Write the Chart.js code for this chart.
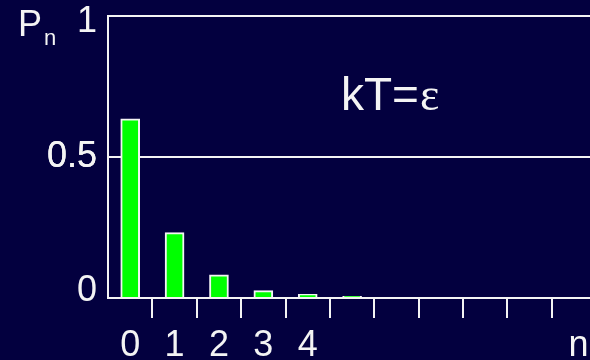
<!DOCTYPE html>
<html>
<head>
<meta charset="utf-8">
<script src="https://cdn.jsdelivr.net/npm/chart.js@4"></script>
<style>
  html, body { margin: 0; padding: 0; background: #03003f; }
  canvas { display: block; }
</style>
</head>
<body>
<canvas id="chart" width="590" height="360"></canvas>
<script>
// Occupation probability of level n
const levels = [0, 1, 2, 3, 4, 5];
const occupancy = [0.635, 0.232, 0.082, 0.026, 0.013, 0.006];

// Axis labels
const xLabelLevels = [0, 1, 2, 3, 4];
const xLabelTexts = ['0', '1', '2', '3', '4'];
const xAxisName = 'n';
const xAxisNameAt = 10.1;
const binEdges = [0.5, 1.5, 2.5, 3.5, 4.5, 5.5, 6.5, 7.5, 8.5, 9.5];
const yGridValues = [0, 0.5, 1];
const yLabelValues = [0.025, 0.5, 0.978];
const yLabelTexts = ['0', '0.5', '1'];

const FONT = '"Liberation Sans", Arial, Helvetica, sans-serif';
const WHITE = '#f4f4f4';
const CLEAR = 'rgba(0,0,0,0)';

const xLabelMap = new Map(xLabelLevels.map((v, i) => [v, xLabelTexts[i]]));
xLabelMap.set(xAxisNameAt, xAxisName);
const edgeSet = new Set(binEdges);
const yLabelMap = new Map(yLabelValues.map((v, i) => [v, yLabelTexts[i]]));
const yGridSet = new Set(yGridValues);

const annotations = {
  id: 'annotations',
  afterDraw(chart) {
    const ctx = chart.ctx;
    ctx.save();
    ctx.fillStyle = WHITE;
    ctx.textBaseline = 'alphabetic';
    ctx.textAlign = 'left';
    ctx.font = '36px ' + FONT;
    ctx.fillText('P', 18, 36);
    ctx.font = '22px ' + FONT;
    ctx.fillText('n', 44, 45);
    ctx.font = '46px ' + FONT;
    ctx.fillText('kT=', 341, 110);
    const w = ctx.measureText('kT=').width;
    ctx.font = '46px "Liberation Serif", "Times New Roman", serif';
    ctx.fillText('\u03B5', 341 + w + 1, 110);
    ctx.restore();
  }
};

new Chart(document.getElementById('chart'), {
  type: 'bar',
  data: {
    datasets: [{
      data: levels.map((n, i) => ({ x: n, y: occupancy[i] })),
      backgroundColor: '#00ff00',
      borderColor: WHITE,
      borderWidth: 2,
      barThickness: 19
    }]
  },
  options: {
    responsive: false,
    animation: false,
    events: [],
    layout: { padding: { top: 16, left: 0, right: 0, bottom: 0 } },
    plugins: { legend: { display: false }, tooltip: { enabled: false } },
    scales: {
      x: {
        type: 'linear',
        offset: false,
        min: -0.5,
        max: 10.36,
        border: { display: true, color: WHITE, width: 2 },
        grid: {
          offset: false,
          drawOnChartArea: false,
          drawTicks: true,
          tickLength: 20,
          lineWidth: 2,
          color: ctx => (ctx.tick && edgeSet.has(ctx.tick.value)) ? WHITE : CLEAR
        },
        ticks: {
          autoSkip: false,
          maxRotation: 0,
          minRotation: 0,
          padding: 6,
          color: WHITE,
          font: { family: FONT, size: 36 },
          callback: v => xLabelMap.has(v) ? xLabelMap.get(v) : ''
        },
        afterBuildTicks: scale => {
          const vals = [...binEdges, ...xLabelMap.keys()].sort((a, b) => a - b);
          scale.ticks = vals.map(v => ({ value: v }));
        },
        afterFit: scale => {
          scale.height = 62;
          scale.paddingLeft = 0;
          scale.paddingRight = 0;
        }
      },
      y: {
        min: 0,
        max: 1,
        border: { display: true, color: WHITE, width: 2 },
        grid: {
          drawTicks: false,
          lineWidth: 2,
          color: ctx => (ctx.tick && yGridSet.has(ctx.tick.value)) ? WHITE : CLEAR
        },
        ticks: {
          padding: 11,
          color: WHITE,
          font: { family: FONT, size: 36 },
          callback: v => yLabelMap.has(v) ? yLabelMap.get(v) : ''
        },
        afterBuildTicks: scale => {
          const vals = [...yGridValues, ...yLabelMap.keys()].sort((a, b) => a - b);
          scale.ticks = vals.map(v => ({ value: v }));
        },
        afterFit: scale => {
          scale.width = 108;
          scale.paddingTop = 0;
          scale.paddingBottom = 0;
        }
      }
    }
  },
  plugins: [annotations]
});
</script>
</body>
</html>
